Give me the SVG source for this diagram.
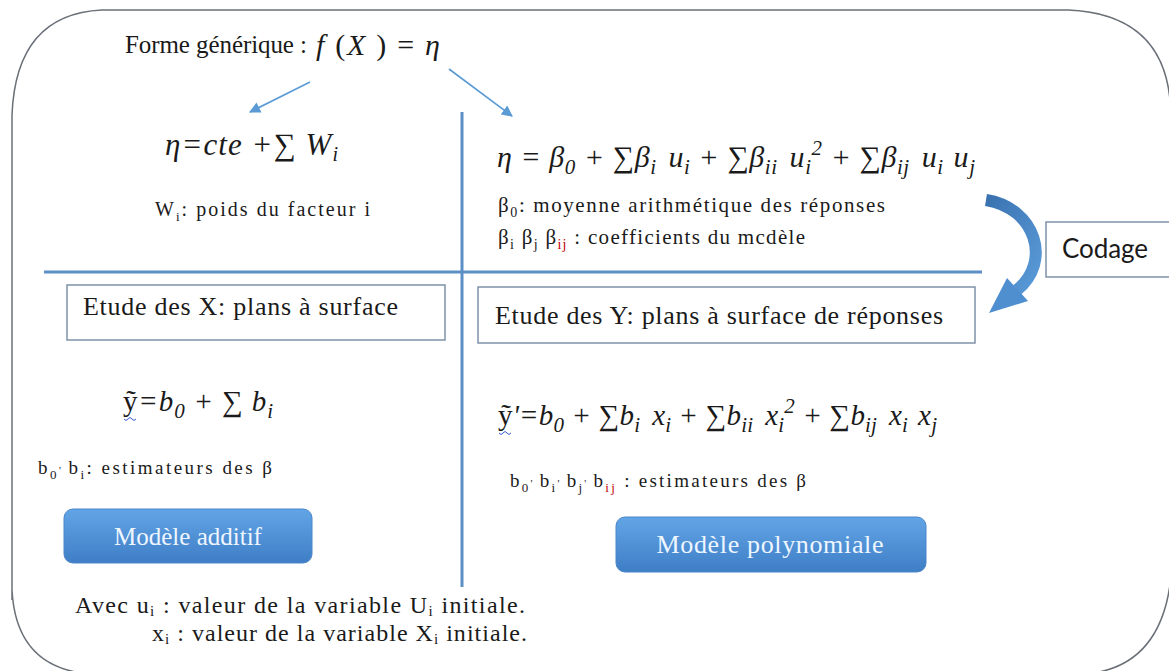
<svg xmlns="http://www.w3.org/2000/svg" width="1169" height="671" viewBox="0 0 1169 671">
<defs>
<style>
.tx{font-family:"Liberation Serif","Times New Roman",serif;fill:#1a1a1a}
.mx{font-family:"Liberation Serif","Times New Roman",serif;font-style:italic;fill:#1a1a1a}
.div{stroke:#5b8fc6;stroke-width:3;fill:none}
.conn{stroke:#5b9bd5;stroke-width:1.6;fill:none}
.box{fill:#ffffff;stroke:#7f93a8;stroke-width:1.5}
.btn{fill:url(#btng);stroke:#4a86c8;stroke-width:1}
.btxt{font-family:"Liberation Serif","Times New Roman",serif;fill:#eef6ff;text-anchor:middle}
.red{fill:#c00000}
</style>
<linearGradient id="btng" x1="0" y1="0" x2="0" y2="1">
<stop offset="0" stop-color="#62a5e6"/>
<stop offset="1" stop-color="#3f7ec6"/>
</linearGradient>
<linearGradient id="arcg" x1="0" y1="0" x2="1" y2="1">
<stop offset="0" stop-color="#3a72b0"/>
<stop offset="1" stop-color="#5a9ad8"/>
</linearGradient>
<marker id="ah" viewBox="0 0 10 10" refX="9" refY="5" markerWidth="7" markerHeight="7" orient="auto">
<path d="M0,0 L10,5 L0,10 Z" fill="#5b9bd5"/>
</marker>
</defs>
<rect width="1169" height="671" fill="#ffffff"/>

<g id="frame">
<path d="M12,600 L12,115 Q16,14 102,10 L1068,10 Q1162,14 1170,100 L1170,585 Q1158,668 1085,674 L90,674 Q16,668 12,590" fill="none" stroke="#6a7078" stroke-width="1.5"/>
</g>

<g id="dividers">
<line class="div" x1="462" y1="112" x2="462" y2="587"/>
<line class="div" x1="44" y1="272" x2="982" y2="272"/>
</g>

<g id="title">
<text class="tx" x="125" y="53" font-size="25" textLength="182">Forme générique :</text>
<text class="mx" x="316" y="55" font-size="30" textLength="124">f <tspan font-style="normal">(</tspan>X <tspan font-style="normal">) =</tspan> η</text>
</g>

<g id="connectors">
<line class="conn" x1="310" y1="82" x2="250" y2="112" marker-end="url(#ah)"/>
<line class="conn" x1="449" y1="69" x2="512" y2="116" marker-end="url(#ah)"/>
<path d="M986,200 C1036,208 1052,262 1017,290" fill="none" stroke="url(#arcg)" stroke-width="12"/>
<polygon points="989,313 1028,301 1007,278" fill="#4f8fd0"/>
</g>

<g id="additive-eq">
<text class="mx" x="165" y="155" font-size="31" textLength="173">η=cte +∑ W<tspan dy="6" font-size="20">i</tspan></text>
<text class="tx" x="155" y="216" font-size="20" textLength="215">W<tspan dy="5" font-size="13">i</tspan><tspan dy="-5">: poids du facteur i</tspan></text>
</g>

<g id="poly-eq">
<text class="mx" x="497" y="167" font-size="30" textLength="478">η = β<tspan dy="7" font-size="21">0</tspan><tspan dy="-7"> + ∑β</tspan><tspan dy="7" font-size="21">i</tspan><tspan dy="-7" dx="12">u</tspan><tspan dy="7" font-size="21">i</tspan><tspan dy="-7"> + ∑β</tspan><tspan dy="7" font-size="21">ii</tspan><tspan dy="-7" dx="12">u</tspan><tspan dy="7" font-size="21">i</tspan><tspan dy="-19" font-size="21">2</tspan><tspan dy="12"> + ∑β</tspan><tspan dy="7" font-size="21">ij</tspan><tspan dy="-7" dx="12">u</tspan><tspan dy="7" font-size="21">i</tspan><tspan dy="-7" dx="10">u</tspan><tspan dy="7" font-size="21">j</tspan></text>
<text class="tx" x="498" y="212" font-size="21" textLength="387">β<tspan dy="5" font-size="14">0</tspan><tspan dy="-5">: moyenne arithmétique des réponses</tspan></text>
<text class="tx" x="498" y="244" font-size="21" textLength="307">β<tspan dy="5" font-size="14">i</tspan><tspan dy="-5"> β</tspan><tspan dy="5" font-size="14">j</tspan><tspan dy="-5"> β</tspan><tspan dy="5" font-size="14" class="red">ij</tspan><tspan dy="-5"> : coefficients du mcdèle</tspan></text>
</g>

<g id="codage">
<rect class="box" x="1046" y="222" width="130" height="55" stroke="#222" stroke-width="1.3"/>
<text x="1062" y="258" font-family="Lato,'Open Sans',sans-serif" font-size="26" fill="#1a1a1a" textLength="86">Codage</text>
</g>

<g id="etude-x">
<rect class="box" x="67" y="285" width="378" height="55"/>
<text class="tx" x="83" y="315" font-size="26" textLength="315">Etude des X: plans à surface</text>
</g>

<g id="etude-y">
<rect class="box" x="478" y="287" width="497" height="56"/>
<text class="tx" x="495" y="324" font-size="26" textLength="448">Etude des Y: plans à surface de réponses</text>
</g>

<g id="est-additive">
<text class="mx" x="123" y="411" font-size="29" textLength="150"><tspan font-style="normal">ỹ</tspan>=b<tspan dy="7" font-size="21">0</tspan><tspan dy="-7"> + ∑ b</tspan><tspan dy="7" font-size="21">i</tspan></text>
<path d="M124,419 q2,3 4,0 q2,-3 4,0 q2,3 4,0" stroke="#3a5ad0" stroke-width="1" fill="none"/>
<text class="tx" x="38" y="474" font-size="19" textLength="234">b<tspan dy="5" font-size="13">0</tspan><tspan dy="-5" font-size="11">' </tspan><tspan font-size="19">b</tspan><tspan dy="5" font-size="13">i</tspan><tspan dy="-5">: estimateurs des β</tspan></text>
</g>

<g id="est-poly">
<text class="mx" x="498" y="425" font-size="29" textLength="439"><tspan font-style="normal">ỹ</tspan>'=b<tspan dy="7" font-size="21">0</tspan><tspan dy="-7"> + ∑b</tspan><tspan dy="7" font-size="21">i</tspan><tspan dy="-7" dx="12">x</tspan><tspan dy="7" font-size="21">i</tspan><tspan dy="-7"> + ∑b</tspan><tspan dy="7" font-size="21">ii</tspan><tspan dy="-7" dx="12">x</tspan><tspan dy="7" font-size="21">i</tspan><tspan dy="-19" font-size="21">2</tspan><tspan dy="12"> + ∑b</tspan><tspan dy="7" font-size="21">ij</tspan><tspan dy="-7" dx="12">x</tspan><tspan dy="7" font-size="21">i</tspan><tspan dy="-7" dx="10">x</tspan><tspan dy="7" font-size="21">j</tspan></text>
<path d="M499,433 q2,3 4,0 q2,-3 4,0 q2,3 4,0" stroke="#3a5ad0" stroke-width="1" fill="none"/>
<text class="tx" x="510" y="487" font-size="19" textLength="296">b<tspan dy="5" font-size="13">0</tspan><tspan dy="-5" font-size="11">' </tspan><tspan font-size="19">b</tspan><tspan dy="5" font-size="13">i</tspan><tspan dy="-5" font-size="11">' </tspan><tspan font-size="19">b</tspan><tspan dy="5" font-size="13">j</tspan><tspan dy="-5" font-size="11">' </tspan><tspan font-size="19">b</tspan><tspan dy="5" font-size="13" class="red">ij</tspan><tspan dy="-5"> : estimateurs des β</tspan></text>
</g>

<g id="btn-additif">
<rect class="btn" x="64" y="509" width="248" height="54" rx="9"/>
<text class="btxt" x="188" y="545" font-size="25">Modèle additif</text>
</g>

<g id="btn-poly">
<rect class="btn" x="616" y="517" width="310" height="55" rx="9"/>
<text class="btxt" x="770" y="553" font-size="26" textLength="227">Modèle polynomiale</text>
</g>

<g id="legend">
<text class="tx" x="75" y="613" font-size="24" textLength="450">Avec u<tspan dy="3" font-size="15">i</tspan><tspan dy="-3"> : valeur de la variable U</tspan><tspan dy="3" font-size="15">i</tspan><tspan dy="-3"> initiale.</tspan></text>
<text class="tx" x="152" y="641" font-size="24" textLength="375">x<tspan dy="3" font-size="15">i</tspan><tspan dy="-3"> : valeur de la variable X</tspan><tspan dy="3" font-size="15">i</tspan><tspan dy="-3"> initiale.</tspan></text>
</g>
</svg>
